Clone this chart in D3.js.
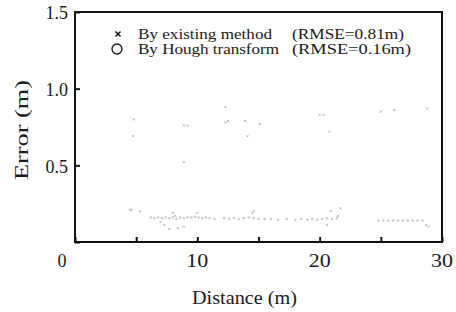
<!DOCTYPE html>
<html>
<head>
<meta charset="utf-8">
<script src="https://cdn.jsdelivr.net/npm/d3@7"></script>
<style>
  body { margin: 0; background: #fff; }
  text { font-family: "Liberation Serif", "Times New Roman", serif; fill: #1a1a1a; }
</style>
</head>
<body>
<div id="chart"></div>
<script>
// Existing method (x marks): distance (m) and error (m)
var existingDist = [4.8, 4.75, 8.9, 9.2, 12.3, 12.3, 12.5, 13.9, 14.1, 15.1, 8.9, 20.0, 20.3, 20.8, 25.0, 26.1, 28.8,
  4.5, 8.0, 8.2, 7.0, 7.3, 7.7, 8.4, 8.9, 10.0, 14.5, 14.6, 20.9, 21.7, 21.5, 20.6, 28.7, 28.9];
var existingErr = [0.80, 0.69, 0.76, 0.76, 0.88, 0.78, 0.79, 0.79, 0.69, 0.77, 0.52, 0.83, 0.83, 0.72, 0.85, 0.86, 0.87,
  0.21, 0.19, 0.17, 0.13, 0.11, 0.085, 0.09, 0.10, 0.19, 0.19, 0.20, 0.20, 0.22, 0.17, 0.11, 0.11, 0.10];

// Hough transform (circles)
var houghDist = [4.6, 5.3, 6.2, 6.5, 6.8, 7.1, 7.4, 7.7, 8.0, 8.3, 8.6, 8.9, 9.2, 9.5, 9.8, 10.1, 10.4, 10.7, 11.0, 11.4,
  12.2, 12.6, 13.0, 13.4, 13.8, 14.2, 14.6, 15.0, 15.5, 16.0, 16.6, 17.3, 18.0, 18.5, 19.0, 19.4, 19.8, 20.2, 20.6, 21.0, 21.4,
  24.8, 25.2, 25.6, 26.0, 26.4, 26.8, 27.2, 27.6, 28.0, 28.4];
var houghErr = [0.21, 0.20, 0.16, 0.155, 0.16, 0.155, 0.16, 0.155, 0.16, 0.15, 0.16, 0.155, 0.16, 0.16, 0.165, 0.16, 0.155, 0.16, 0.155, 0.15,
  0.155, 0.15, 0.155, 0.15, 0.155, 0.16, 0.155, 0.15, 0.15, 0.15, 0.145, 0.15, 0.145, 0.15, 0.145, 0.15, 0.145, 0.15, 0.155, 0.15, 0.155,
  0.14, 0.14, 0.14, 0.14, 0.14, 0.14, 0.14, 0.14, 0.14, 0.14];

var xTicks = [0, 5, 10, 15, 20, 25, 30];
var xTickLabels = ["10", "20", "30"];
var yTicks = [0, 0.5, 1.0, 1.5];
var yTickLabels = ["0.5", "1.0", "1.5"];

var legendLabels = ["By existing method", "By Hough transform"];
var legendRmse = ["(RMSE=0.81m)", "(RMSE=0.16m)"];

var W = 456, H = 312;
var margin = {top: 12, right: 14, bottom: 70, left: 75};
var width = W - margin.left - margin.right;
var height = H - margin.top - margin.bottom;

var x = d3.scaleLinear().domain([0, 30]).range([0, width]);
var y = d3.scaleLinear().domain([0, 1.5]).range([height, 0]);

var svg = d3.select("#chart").append("svg")
  .attr("width", W)
  .attr("height", H);

var g = svg.append("g")
  .attr("transform", "translate(" + margin.left + "," + margin.top + ")");

// Frame
g.append("rect")
  .attr("width", width)
  .attr("height", height)
  .attr("fill", "none")
  .attr("stroke", "#111")
  .attr("stroke-width", 2);

// Inward ticks on the bottom axis
g.append("g")
  .attr("class", "axis axis-x")
  .attr("transform", "translate(0," + height + ")")
  .call(d3.axisBottom(x).tickValues(xTicks).tickSizeInner(-5).tickSizeOuter(0).tickFormat(""))
  .call(function(a) {
    a.select(".domain").remove();
    a.selectAll("line").attr("stroke", "#111").attr("stroke-width", 2);
  });

// Inward ticks on the left axis
g.append("g")
  .attr("class", "axis axis-y")
  .call(d3.axisLeft(y).tickValues(yTicks).tickSizeInner(-5).tickSizeOuter(0).tickFormat(""))
  .call(function(a) {
    a.select(".domain").remove();
    a.selectAll("line").attr("stroke", "#111").attr("stroke-width", 2);
  });

// Tick labels
g.selectAll(".xlab")
  .data(xTickLabels)
  .enter().append("text")
  .attr("class", "xlab")
  .attr("x", function(d) { return x(+d); })
  .attr("y", height + 25)
  .attr("text-anchor", "middle")
  .attr("font-size", 18)
  .attr("textLength", 22)
  .attr("lengthAdjust", "spacingAndGlyphs")
  .text(function(d) { return d; });

g.append("text")
  .attr("x", x(0) - 13)
  .attr("y", height + 25)
  .attr("text-anchor", "middle")
  .attr("font-size", 18)
  .text("0");

g.selectAll(".ylab")
  .data(yTickLabels)
  .enter().append("text")
  .attr("class", "ylab")
  .attr("x", -7)
  .attr("y", function(d) { return y(+d); })
  .attr("dy", "0.4em")
  .attr("text-anchor", "end")
  .attr("font-size", 18)
  .text(function(d) { return d; });

// Axis titles
svg.append("text")
  .attr("x", 192)
  .attr("y", 304)
  .attr("font-size", 18)
  .attr("textLength", 105)
  .attr("lengthAdjust", "spacingAndGlyphs")
  .text("Distance  (m)");

svg.append("text")
  .attr("transform", "translate(28,180) rotate(-90)")
  .attr("font-size", 19)
  .attr("textLength", 100)
  .attr("lengthAdjust", "spacingAndGlyphs")
  .text("Error  (m)");

// Data marks
var pts = g.append("g");

pts.selectAll(".hough")
  .data(houghDist)
  .enter().append("circle")
  .attr("class", "hough")
  .attr("cx", function(d) { return x(d); })
  .attr("cy", function(d, i) { return y(houghErr[i]); })
  .attr("r", 0.9)
  .attr("fill", "none")
  .attr("stroke", "#999")
  .attr("stroke-width", 0.6);

pts.selectAll(".existing")
  .data(existingDist)
  .enter().append("path")
  .attr("class", "existing")
  .attr("transform", function(d, i) { return "translate(" + x(d) + "," + y(existingErr[i]) + ")"; })
  .attr("d", "M-1,-1L1,1M-1,1L1,-1")
  .attr("stroke", "#999")
  .attr("stroke-width", 0.7);

// Legend
var legend = svg.append("g");

legend.append("path")
  .attr("transform", "translate(118,34)")
  .attr("d", "M-2.5,-2.5L2.5,2.5M-2.5,2.5L2.5,-2.5")
  .attr("stroke", "#111")
  .attr("stroke-width", 1.5);

legend.append("circle")
  .attr("cx", 117)
  .attr("cy", 49)
  .attr("r", 5)
  .attr("fill", "none")
  .attr("stroke", "#111")
  .attr("stroke-width", 1.3);

legend.selectAll(".lname")
  .data(legendLabels)
  .enter().append("text")
  .attr("class", "lname")
  .attr("x", 138)
  .attr("y", function(d, i) { return 39 + i * 15; })
  .attr("font-size", 14)
  .attr("textLength", function(d, i) { return i === 0 ? 134 : 141; })
  .attr("lengthAdjust", "spacingAndGlyphs")
  .text(function(d) { return d; });

legend.selectAll(".lrmse")
  .data(legendRmse)
  .enter().append("text")
  .attr("class", "lrmse")
  .attr("x", 292)
  .attr("y", function(d, i) { return 39 + i * 15; })
  .attr("font-size", 14)
  .attr("textLength", function(d, i) { return i === 0 ? 112 : 119; })
  .attr("lengthAdjust", "spacingAndGlyphs")
  .text(function(d) { return d; });
</script>
</body>
</html>
